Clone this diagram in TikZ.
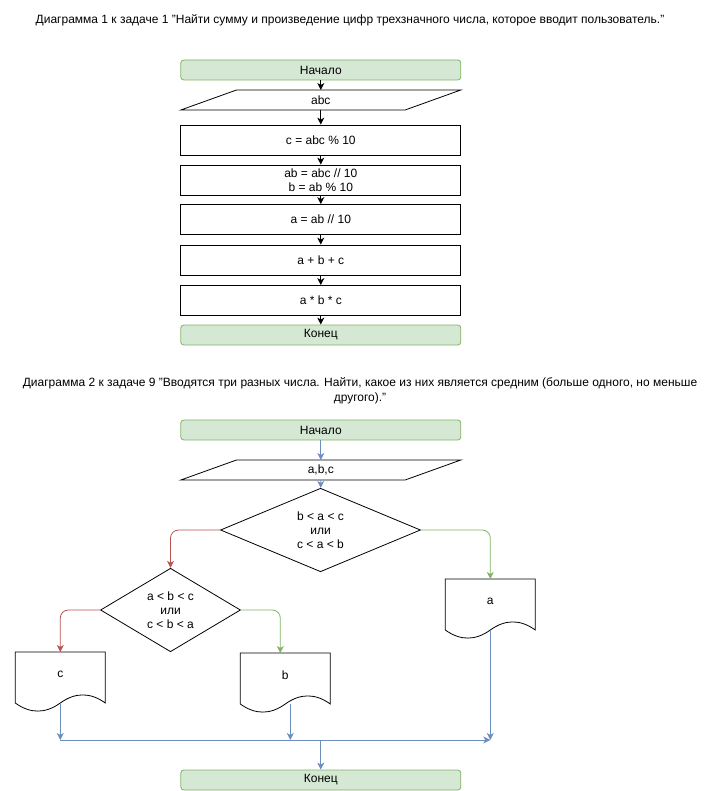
\documentclass[tikz,border=0pt]{standalone}
\usepackage{fontspec}
\setmainfont{Liberation Sans}
\usepackage{tikz}
\usetikzlibrary{positioning}
\usetikzlibrary{shapes.geometric}
\usetikzlibrary{arrows.meta}
\usetikzlibrary{calc}
\usepackage{xcolor}
\definecolor{termfill}{HTML}{D5E8D4}
\definecolor{termline}{HTML}{82B366}
\definecolor{noline}{HTML}{B85450}
\definecolor{yesline}{HTML}{82B366}
\definecolor{flowline}{HTML}{6C8EBF}

% document shape: body is the node, wavy bottom drawn below it
\newcommand{\docbottom}[1]{%
  \draw[line width=0.8pt] (#1.north west) -- (#1.north east) -- ($(#1.south east)+(0pt,-6pt)$)
    .. controls ($(#1.south east)+(-15pt,4.8pt)$) and ($(#1.south)+(15pt,4.8pt)$) .. ($(#1.south)+(0pt,-6pt)$)
    .. controls ($(#1.south)+(-15pt,-16.8pt)$) and ($(#1.south west)+(15pt,-16.8pt)$) .. ($(#1.south west)+(0pt,-6pt)$)
    -- cycle;
  \coordinate (#1-out) at ($(#1.south)+(0pt,-6pt)$);}
% input shape: parallelogram drawn over the node's box
\newcommand{\ioframe}[1]{%
  \draw[line width=0.8pt] ($(#1.north west)+(55.7pt,0pt)$) -- (#1.north east)
    -- ($(#1.south east)+(-55.7pt,0pt)$) -- (#1.south west) -- cycle;}

\begin{document}
\begin{tikzpicture}[x=1pt,y=-1pt,node distance=40pt,on grid,
    font=\fontsize{12}{14}\selectfont,
    startstop/.style={draw=termline,fill=termfill,rounded corners=3pt,line width=0.8pt,
      minimum width=280pt,minimum height=20pt,inner sep=0pt},
    io/.style={minimum width=280pt,minimum height=20pt,inner sep=0pt,outer sep=0pt},
    procbox/.style={draw,line width=0.8pt,minimum width=280pt,minimum height=30pt,
      inner sep=0pt,align=center},
    decision/.style={diamond,draw,line width=0.8pt,inner sep=0pt,align=center},
    docnode/.style={minimum width=90pt,minimum height=45pt,inner sep=0pt,outer sep=0pt},
    arr/.style={-{Stealth[length=7pt,width=7pt,inset=2pt]},line width=0.8pt},
    titletext/.style={align=center,font=\fontsize{12}{15}\selectfont}]
  \useasboundingbox (0,0) rectangle (711,791);

  % first diagram
  \node[titletext] (title1) at (350,20)
    {Диаграмма 1 к задаче 1 "Найти сумму и произведение цифр трехзначного числа, которое вводит пользователь."};
  \node[startstop] (start1) at (320.8,70) {Начало};
  \node[io] (in1) [below=30pt of start1] {abc};
  \ioframe{in1}
  \node[procbox] (c1) [below=of in1] {c = abc \% 10};
  \node[procbox] (ab1) [below=of c1] {ab = abc // 10\\b = ab \% 10};
  \node[procbox] (a1) [below=39.5pt of ab1] {a = ab // 10};
  \node[procbox] (sum1) [below=40.5pt of a1] {a + b + c};
  \node[procbox] (prod1) [below=40.5pt of sum1] {a * b * c};
  \node[startstop] (end1) [below=34.5pt of prod1] {Конец};
  \path[arr]
    (start1) edge (in1)
    (in1) edge (c1)
    (c1) edge (ab1)
    (ab1) edge (a1)
    (a1) edge (sum1)
    (sum1) edge (prod1)
    (prod1) edge (end1);

  % second diagram
  \node[titletext] (title2) at (360,390.5)
    {Диаграмма 2 к задаче 9 "Вводятся три разных числа. Найти, какое из них является средним (больше одного, но меньше\\другого)."};
  \node[startstop] (start2) at (320.8,430) {Начало};
  \node[io] (in2) [below=of start2] {a,b,c};
  \ioframe{in2}
  \node[decision,minimum width=200pt,minimum height=60pt] (d1) at (320.5,530)
    {b < a < c\\или\\c < a < b};
  \node[decision,minimum width=140pt,minimum height=60pt] (d2) at (170.5,610)
    {a < b < c\\или\\c < b < a};
  \node[docnode] (docA) at (490.3,601.5) {a};
  \node[docnode] (docC) at (60.3,674.5) {c};
  \node[docnode] (docB) at (285.3,675.5) {b};
  \docbottom{docA}
  \docbottom{docC}
  \docbottom{docB}
  \node[startstop] (end2) at (320.8,780) {Конец};

  \coordinate (jc) at (60.3,740);
  \coordinate (jb) at (290.3,740);
  \coordinate (ja) at (490.3,740);
  \coordinate (jm) at (320.8,740);

  \draw[arr,flowline] (start2) -- (in2);
  \draw[arr,flowline] (in2) -- (d1);
  \draw[arr,noline,rounded corners=8pt] (d1.west) -| (d2.north);
  \draw[arr,yesline,rounded corners=8pt] (d1.east) -| (docA.north);
  \draw[arr,noline,rounded corners=8pt] (d2.west) -| (docC.north);
  \draw[arr,yesline,rounded corners=8pt] (d2.east) -| ($(docB.north)+(-5pt,0pt)$);
  \draw[arr,flowline] (docC-out) -- (jc);
  \draw[arr,flowline] ($(docB-out)+(5pt,0pt)$) -- (jb);
  \draw[arr,flowline] (docA-out) -- (ja);
  \draw[arr,flowline] (jc) -- (ja);
  \draw[arr,flowline] (jm) -- (end2);
\end{tikzpicture}
\end{document}
